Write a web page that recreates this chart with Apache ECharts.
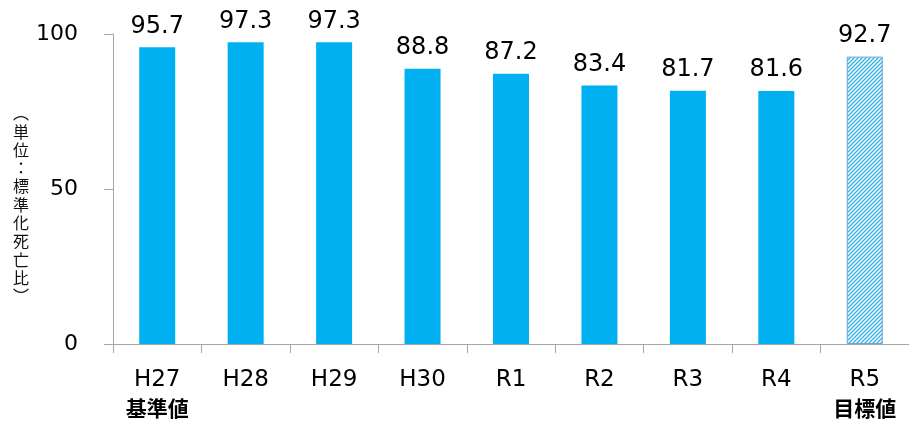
<!DOCTYPE html>
<html>
<head>
<meta charset="utf-8">
<script src="https://cdn.jsdelivr.net/npm/echarts@6/dist/echarts.min.js"></script>
<style>
  html, body { margin: 0; padding: 0; background: #fff; }
  #chart { width: 909px; height: 423px; }
</style>
</head>
<body>
<div id="chart"></div>
<script>
// Standardized mortality ratio by fiscal year, with the R5 target value
const categories = ['H27', 'H28', 'H29', 'H30', 'R1', 'R2', 'R3', 'R4', 'R5'];
const subLabels = { H27: '基準値', R5: '目標値' };
const values = [95.7, 97.3, 97.3, 88.8, 87.2, 83.4, 81.7, 81.6, 92.7];
const targetCategory = 'R5';
const yTicks = { min: 0, max: 100, interval: 50 };
const yAxisName = '︵単位：標準化死亡比︶';

const FONT = 'DejaVu Sans, "Noto Sans CJK JP", sans-serif';
const CJK = '"Noto Sans CJK JP", sans-serif';
const BAR = '#00B0F0';

// hatch fill for the target bar
function hatchPattern() {
  const s = 4;
  const c = document.createElement('canvas');
  c.width = s; c.height = s;
  const g = c.getContext('2d');
  g.fillStyle = '#ffffff';
  g.fillRect(0, 0, s, s);
  g.strokeStyle = '#2fb3e6';
  g.lineWidth = 1.3;
  g.beginPath();
  g.moveTo(0, s); g.lineTo(s, 0);
  g.moveTo(-1, 1); g.lineTo(1, -1);
  g.moveTo(s - 1, s + 1); g.lineTo(s + 1, s - 1);
  g.stroke();
  return c;
}
const hatch = { image: hatchPattern(), repeat: 'repeat' };

const seriesData = categories.map((cat, i) => {
  if (cat === targetCategory) {
    return {
      value: values[i],
      itemStyle: { color: hatch, borderColor: '#6fa3cf', borderWidth: 1 }
    };
  }
  return { value: values[i] };
});

const chart = echarts.init(document.getElementById('chart'), null, { renderer: 'canvas' });
chart.setOption({
  animation: false,
  backgroundColor: '#ffffff',
  grid: { left: 113, right: -7, top: 34, bottom: 79, containLabel: false },
  // vertical axis title, one character per line
  graphic: [{
    type: 'text',
    left: 13,
    top: 104,
    style: {
      text: yAxisName.split('').join('\n'),
      fontFamily: CJK,
      fontSize: 16,
      lineHeight: 18.3,
      fill: '#111',
      align: 'center'
    }
  }],
  xAxis: {
    type: 'category',
    data: categories,
    boundaryGap: true,
    axisLine: { lineStyle: { color: '#a6a6a6', width: 1 } },
    axisTick: { show: true, inside: false, length: 9, alignWithLabel: false, lineStyle: { color: '#a6a6a6' } },
    axisLabel: {
      margin: 22,
      interval: 0,
      formatter: (v) => subLabels[v] ? `{a|${v}}\n{b|${subLabels[v]}}` : `{a|${v}}`,
      rich: {
        a: { fontFamily: FONT, fontSize: 23, color: '#000', lineHeight: 28 },
        b: { fontFamily: CJK, fontSize: 21, fontWeight: 'bold', color: '#000', lineHeight: 28 }
      }
    }
  },
  yAxis: {
    type: 'value',
    min: yTicks.min,
    max: yTicks.max,
    interval: yTicks.interval,
    splitLine: { show: false },
    axisLine: { show: true, lineStyle: { color: '#a6a6a6', width: 1 } },
    axisTick: { show: true, inside: false, length: 9, lineStyle: { color: '#a6a6a6' } },
    axisLabel: { margin: 35, fontFamily: FONT, fontSize: 22, color: '#000' }
  },
  series: [{
    type: 'bar',
    data: seriesData,
    barWidth: 36,
    itemStyle: { color: BAR },
    label: {
      show: true,
      position: 'top',
      distance: 9,
      fontFamily: FONT,
      fontSize: 24,
      color: '#000',
      formatter: (p) => p.value.toFixed(1)
    }
  }]
});
</script>
</body>
</html>
